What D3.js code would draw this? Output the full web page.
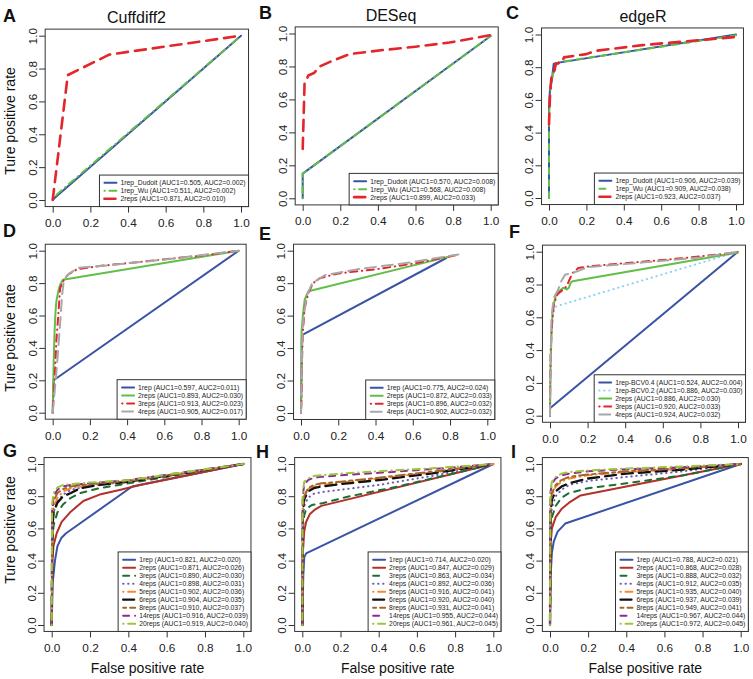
<!DOCTYPE html>
<html><head><meta charset="utf-8">
<script src="https://cdn.jsdelivr.net/npm/d3@7"></script>
<style>
body{margin:0;background:#fff}
svg{display:block;font-family:"Liberation Sans",Arial,Helvetica,sans-serif}
</style>
</head><body><svg id="chart" width="753" height="679"></svg>
<script>
// ---------------- data ----------------
const tickValues = [0, 0.2, 0.4, 0.6, 0.8, 1.0];
const tickLabels = ["0.0", "0.2", "0.4", "0.6", "0.8", "1.0"];
const methodTitles = ["Cuffdiff2", "DESeq", "edgeR"];
const panelLetters = ["A", "B", "C", "D", "E", "F", "G", "H", "I"];
const yAxisTitle = "Ture positive rate";
const xAxisTitle = "False positive rate";

const curvesA = [
  {name:"1rep_Dudoit", auc1:"0.505", auc2:"0.002", pts:[[0,0],[0.01,0.012],[1,1]]},
  {name:"1rep_Wu", auc1:"0.511", auc2:"0.002", pts:[[0,0.01],[0.01,0.022],[1,1]]},
  {name:"2reps", auc1:"0.871", auc2:"0.010", pts:[[0,0],[0.08,0.76],[0.3,0.885],[1,1]]}
];
const curvesB = [
  {name:"1rep_Dudoit", auc1:"0.570", auc2:"0.008", pts:[[0,0],[0,0.15],[1,0.985]]},
  {name:"1rep_Wu", auc1:"0.568", auc2:"0.008", pts:[[0,0],[0,0.15],[1,0.985]]},
  {name:"2reps", auc1:"0.899", auc2:"0.033", pts:[[0,0.3],[0.005,0.5],[0.01,0.7],[0.02,0.72],[0.03,0.745],[0.06,0.76],[0.09,0.8],[0.16,0.835],[0.25,0.875],[0.43,0.9],[0.6,0.92],[0.78,0.945],[1,0.99]]}
];
const curvesC = [
  {name:"1rep_Dudoit", auc1:"0.906", auc2:"0.039", pts:[[0,0],[0,0.55],[0.005,0.66],[0.015,0.72],[0.025,0.82],[0.035,0.825],[1,1]]},
  {name:"1rep_Wu", auc1:"0.909", auc2:"0.038", pts:[[0,0],[0,0.5],[0.01,0.7],[0.03,0.8],[0.05,0.83],[1,0.995]]},
  {name:"2reps", auc1:"0.923", auc2:"0.037", pts:[[0,0.45],[0.005,0.62],[0.01,0.7],[0.015,0.76],[0.03,0.78],[0.035,0.82],[0.07,0.83],[0.08,0.86],[0.2,0.88],[0.25,0.9],[0.5,0.935],[0.75,0.96],[1,0.985]]}
];
const curvesD = [
  {name:"1rep", auc1:"0.597", auc2:"0.011", pts:[[0,0],[0.005,0.2],[1,1]]},
  {name:"2reps", auc1:"0.893", auc2:"0.030", pts:[[0,0],[0.005,0.3],[0.01,0.5],[0.015,0.62],[0.02,0.69],[0.03,0.75],[0.04,0.79],[0.055,0.82],[1,1]]},
  {name:"3reps", auc1:"0.913", auc2:"0.023", pts:[[0,0],[0.01,0.2],[0.02,0.45],[0.03,0.6],[0.04,0.77],[0.06,0.82],[0.08,0.85],[0.13,0.885],[0.25,0.905],[0.5,0.935],[0.8,0.97],[1,1]]},
  {name:"4reps", auc1:"0.905", auc2:"0.017", pts:[[0,0],[0.02,0.25],[0.04,0.55],[0.05,0.72],[0.06,0.82],[0.09,0.86],[0.14,0.895],[0.3,0.91],[0.6,0.945],[1,1]]}
];
const curvesE = [
  {name:"1rep", auc1:"0.775", auc2:"0.024", pts:[[0,0],[0.003,0.3],[0.005,0.48],[0.78,0.955]]},
  {name:"2reps", auc1:"0.872", auc2:"0.033", pts:[[0,0],[0.003,0.5],[0.01,0.6],[0.02,0.7],[0.04,0.75],[0.8,0.965]]},
  {name:"3reps", auc1:"0.896", auc2:"0.032", pts:[[0,0],[0.003,0.1],[0.005,0.3],[0.01,0.5],[0.02,0.65],[0.04,0.74],[0.065,0.8],[0.1,0.83],[0.2,0.86],[0.4,0.885],[0.6,0.92],[0.845,0.975]]},
  {name:"4reps", auc1:"0.902", auc2:"0.032", pts:[[0,0],[0.005,0.35],[0.01,0.55],[0.03,0.72],[0.06,0.8],[0.13,0.85],[0.3,0.885],[0.6,0.93],[0.845,0.977]]}
];
const curvesF = [
  {name:"1rep-BCV0.4", auc1:"0.524", auc2:"0.004", pts:[[0,0],[0,0.045],[1,1]]},
  {name:"1rep-BCV0.2", auc1:"0.886", auc2:"0.030", pts:[[0,0],[0.003,0.4],[0.01,0.6],[0.03,0.665],[0.1,0.69],[1,1]]},
  {name:"2reps", auc1:"0.886", auc2:"0.030", pts:[[0,0],[0.003,0.3],[0.008,0.5],[0.015,0.65],[0.03,0.73],[0.05,0.76],[0.07,0.78],[0.09,0.77],[0.1,0.78],[0.11,0.81],[0.12,0.82],[1,0.995]]},
  {name:"3reps", auc1:"0.920", auc2:"0.033", pts:[[0,0],[0,0.1],[0.004,0.4],[0.01,0.55],[0.02,0.68],[0.04,0.74],[0.07,0.77],[0.09,0.79],[0.1,0.82],[0.12,0.87],[0.15,0.9],[0.2,0.91],[0.4,0.93],[0.7,0.96],[0.95,0.99],[1,1]]},
  {name:"4reps", auc1:"0.924", auc2:"0.032", pts:[[0,0],[0.003,0.3],[0.008,0.6],[0.02,0.72],[0.04,0.76],[0.06,0.82],[0.08,0.86],[0.12,0.87],[0.2,0.905],[0.5,0.935],[0.8,0.965],[1,1]]}
];
const curvesG = [
  {name:"1rep", auc1:"0.821", auc2:"0.020", pts:[[0,0],[0.005,0.26],[0.017,0.4],[0.03,0.49],[0.05,0.54],[0.075,0.57],[0.42,0.86],[1,1]]},
  {name:"2reps", auc1:"0.871", auc2:"0.026", pts:[[0,0],[0.004,0.4],[0.009,0.49],[0.026,0.57],[0.052,0.64],[0.096,0.7],[0.165,0.77],[0.25,0.81],[0.36,0.84],[0.46,0.87],[1,1]]},
  {name:"3reps", auc1:"0.890", auc2:"0.030", pts:[[0,0],[0.003,0.5],[0.01,0.62],[0.03,0.7],[0.06,0.75],[0.1,0.79],[0.15,0.82],[0.25,0.85],[0.4,0.88],[0.7,0.94],[1,1]]},
  {name:"4reps", auc1:"0.898", auc2:"0.031", pts:[[0,0],[0.003,0.6],[0.01,0.7],[0.03,0.77],[0.06,0.81],[0.1,0.84],[0.2,0.865],[0.4,0.89],[0.7,0.945],[1,1]]},
  {name:"5reps", auc1:"0.902", auc2:"0.036", pts:[[0,0],[0.003,0.65],[0.01,0.73],[0.03,0.79],[0.06,0.83],[0.1,0.85],[0.2,0.87],[0.4,0.895],[0.7,0.945],[1,1]]},
  {name:"6reps", auc1:"0.904", auc2:"0.035", pts:[[0,0],[0.003,0.6],[0.01,0.7],[0.03,0.76],[0.06,0.8],[0.1,0.82],[0.15,0.85],[0.25,0.87],[0.4,0.89],[0.7,0.945],[1,1]]},
  {name:"8reps", auc1:"0.910", auc2:"0.037", pts:[[0,0],[0.003,0.7],[0.01,0.77],[0.03,0.82],[0.06,0.845],[0.1,0.86],[0.2,0.875],[0.4,0.895],[0.7,0.945],[1,1]]},
  {name:"14reps", auc1:"0.916", auc2:"0.039", pts:[[0,0],[0.002,0.72],[0.01,0.8],[0.03,0.84],[0.06,0.86],[0.1,0.87],[0.2,0.88],[0.4,0.9],[0.7,0.95],[1,1]]},
  {name:"20reps", auc1:"0.919", auc2:"0.040", pts:[[0,0],[0.002,0.75],[0.01,0.82],[0.03,0.855],[0.06,0.87],[0.1,0.875],[0.2,0.885],[0.4,0.9],[0.7,0.95],[1,1]]}
];
const curvesH = [
  {name:"1rep", auc1:"0.714", auc2:"0.020", pts:[[0,0],[0.005,0.3],[0.01,0.42],[0.02,0.445],[1,1]]},
  {name:"2reps", auc1:"0.847", auc2:"0.029", pts:[[0,0],[0.003,0.45],[0.01,0.58],[0.02,0.64],[0.04,0.69],[0.07,0.72],[0.1,0.74],[1,1]]},
  {name:"3reps", auc1:"0.863", auc2:"0.034", pts:[[0,0],[0.003,0.6],[0.01,0.68],[0.02,0.72],[0.05,0.745],[0.1,0.755],[0.25,0.8],[0.5,0.86],[1,1]]},
  {name:"4reps", auc1:"0.892", auc2:"0.036", pts:[[0,0],[0.003,0.65],[0.01,0.74],[0.03,0.79],[0.06,0.815],[0.1,0.825],[0.2,0.84],[0.4,0.87],[0.7,0.93],[1,1]]},
  {name:"5reps", auc1:"0.916", auc2:"0.041", pts:[[0,0],[0.003,0.7],[0.01,0.8],[0.03,0.845],[0.06,0.86],[0.1,0.87],[0.2,0.885],[0.4,0.91],[0.7,0.95],[1,1]]},
  {name:"6reps", auc1:"0.920", auc2:"0.040", pts:[[0,0],[0.003,0.7],[0.01,0.78],[0.03,0.83],[0.06,0.85],[0.1,0.86],[0.2,0.875],[0.4,0.9],[0.7,0.945],[1,1]]},
  {name:"8reps", auc1:"0.931", auc2:"0.041", pts:[[0,0],[0.003,0.72],[0.01,0.8],[0.03,0.85],[0.06,0.87],[0.1,0.88],[0.2,0.89],[0.4,0.915],[0.7,0.955],[1,1]]},
  {name:"14reps", auc1:"0.955", auc2:"0.044", pts:[[0,0],[0.002,0.8],[0.01,0.87],[0.03,0.9],[0.06,0.915],[0.1,0.92],[0.2,0.93],[0.4,0.945],[0.7,0.97],[1,1]]},
  {name:"20reps", auc1:"0.961", auc2:"0.045", pts:[[0,0],[0.002,0.82],[0.01,0.89],[0.03,0.91],[0.06,0.925],[0.1,0.93],[0.2,0.94],[0.4,0.955],[0.7,0.975],[1,1]]}
];
const curvesI = [
  {name:"1rep", auc1:"0.788", auc2:"0.021", pts:[[0,0],[0.003,0.3],[0.01,0.45],[0.02,0.52],[0.04,0.58],[0.08,0.63],[1,1]]},
  {name:"2reps", auc1:"0.868", auc2:"0.028", pts:[[0,0],[0.003,0.5],[0.01,0.6],[0.03,0.67],[0.06,0.72],[0.1,0.76],[0.16,0.805],[1,1]]},
  {name:"3reps", auc1:"0.888", auc2:"0.032", pts:[[0,0],[0.003,0.58],[0.01,0.67],[0.03,0.74],[0.06,0.79],[0.1,0.82],[0.2,0.85],[0.4,0.88],[0.7,0.93],[1,1]]},
  {name:"4reps", auc1:"0.912", auc2:"0.035", pts:[[0,0],[0.003,0.65],[0.01,0.73],[0.03,0.8],[0.06,0.84],[0.1,0.87],[0.2,0.895],[0.4,0.92],[0.7,0.955],[1,1]]},
  {name:"5reps", auc1:"0.935", auc2:"0.040", pts:[[0,0],[0.003,0.72],[0.01,0.8],[0.03,0.86],[0.06,0.89],[0.1,0.91],[0.2,0.93],[0.4,0.95],[0.7,0.97],[1,1]]},
  {name:"6reps", auc1:"0.937", auc2:"0.039", pts:[[0,0],[0.003,0.7],[0.01,0.78],[0.03,0.83],[0.06,0.86],[0.1,0.88],[0.2,0.91],[0.4,0.94],[0.7,0.965],[1,1]]},
  {name:"8reps", auc1:"0.949", auc2:"0.041", pts:[[0,0],[0.003,0.74],[0.01,0.82],[0.03,0.87],[0.06,0.9],[0.1,0.92],[0.2,0.935],[0.4,0.955],[0.7,0.975],[1,1]]},
  {name:"14reps", auc1:"0.967", auc2:"0.044", pts:[[0,0],[0.002,0.82],[0.01,0.88],[0.03,0.91],[0.06,0.93],[0.1,0.94],[0.2,0.955],[0.4,0.967],[0.7,0.98],[1,1]]},
  {name:"20reps", auc1:"0.972", auc2:"0.045", pts:[[0,0],[0.002,0.83],[0.01,0.89],[0.03,0.92],[0.06,0.94],[0.1,0.95],[0.2,0.96],[0.4,0.972],[0.7,0.985],[1,1]]}
];
const panelCurves = [curvesA, curvesB, curvesC, curvesD, curvesE, curvesF, curvesG, curvesH, curvesI];

// ---------------- styles ----------------
const C = {blue:"#3A53A4", green:"#62BE48", red:"#E3262B", grey:"#A8A8A8", sky:"#93D1F0",
  dred:"#B3302B", dgreen:"#1F6D33", slate:"#6B5EB2", orange:"#F6882F", black:"#111111",
  brown:"#A3652A", purple:"#8C2B8F", ygreen:"#9CC63C"};
const dashes = {solid:null, dashed:"6,6", dotted:"0.4,4.6", dotdash:"0.4,4.6,7,4.6",
  longdash:"11,6", twodash:"3,4,9,4", bigdash:"11,7"};
const widths = {bigdash:2.6};
const stylesTop = [{c:C.blue,d:"solid"},{c:C.green,d:"dotdash"},{c:C.red,d:"bigdash"}];
const stylesTopC = [{c:C.blue,d:"solid"},{c:C.green,d:"dashed"},{c:C.red,d:"bigdash"}];
const stylesMid = [{c:C.blue,d:"solid"},{c:C.green,d:"solid"},{c:C.red,d:"dotdash"},{c:C.grey,d:"longdash"}];
const stylesF = [{c:C.blue,d:"solid"},{c:C.sky,d:"dotted"},{c:C.green,d:"solid"},{c:C.red,d:"dotdash"},{c:C.grey,d:"longdash"}];
const stylesBot = [{c:C.blue,d:"solid"},{c:C.dred,d:"solid"},{c:C.dgreen,d:"dashed"},{c:C.slate,d:"dotted"},
  {c:C.orange,d:"dotdash"},{c:C.black,d:"longdash"},{c:C.brown,d:"twodash"},{c:C.purple,d:"dashed"},{c:C.ygreen,d:"dotdash"}];
const panelStyles = [stylesTop, stylesTop, stylesTopC, stylesMid, stylesMid, stylesF, stylesBot, stylesBot, stylesBot];

// ---------------- layout (pixel positions of data 0 and 1) ----------------
const layout = [
  {x:[52.7,241.0], y:[200.0,35.7], L:[3,21.5], title:136.5, ylab:121},
  {x:[302.7,490.7], y:[198.3,33.5], L:[259,18.5], title:391},
  {x:[549.0,736.0], y:[198.0,34.5], L:[506,18.5], title:643},
  {x:[52.7,238.7], y:[412.7,250.7], L:[3,237], ylab:338},
  {x:[301.0,487.3], y:[413.0,250.7], L:[259,240]},
  {x:[550.0,738.0], y:[415.7,251.7], L:[509,238]},
  {x:[51.7,243.3], y:[625.0,464.0], L:[3,457], ylab:530, xlab:true},
  {x:[302.3,493.3], y:[625.0,464.0], L:[256,458], xlab:true},
  {x:[550.0,740.7], y:[625.0,464.0], L:[511,458], xlab:true}
];

const svg = d3.select("#chart");
const lw = s => widths[s.d] || (s.c===C.black ? 2.3 : 2);

layout.forEach((lay, pi) => {
  const x = d3.scaleLinear().domain([0,1]).range(lay.x);
  const y = d3.scaleLinear().domain([0,1]).range(lay.y);
  const bx0 = x(-0.04), bx1 = x(1.04), byB = y(-0.04), byT = y(1.04);
  const g = svg.append("g");

  // axes
  const xa = g.append("g").attr("transform", `translate(0,${byB})`)
    .call(d3.axisBottom(x).tickValues(tickValues).tickFormat((d,i)=>tickLabels[i]).tickSize(6).tickSizeOuter(0).tickPadding(6));
  xa.select(".domain").remove();
  xa.selectAll("line").attr("stroke","#333");
  xa.attr("font-family",null);
  xa.selectAll("text").attr("font-size",11.8).attr("fill","#222");

  const ya = g.append("g").attr("transform", `translate(${bx0},0)`)
    .call(d3.axisLeft(y).tickValues(tickValues).tickFormat((d,i)=>tickLabels[i]).tickSize(6).tickSizeOuter(0));
  ya.select(".domain").remove();
  ya.selectAll("line").attr("stroke","#333");
  ya.attr("font-family",null);
  ya.selectAll("text").attr("font-size",11.8).attr("fill","#222")
    .attr("x",null).attr("dy",null).attr("y",null)
    .attr("text-anchor","middle").attr("transform","translate(-8.5,0) rotate(-90)");

  // curves
  const line = d3.line().x(d=>x(d[0])).y(d=>y(d[1]));
  const curves = panelCurves[pi], st = panelStyles[pi];
  curves.forEach((cv, i) => {
    g.append("path").attr("d", line(cv.pts)).attr("fill","none")
      .attr("stroke", st[i].c).attr("stroke-width", lw(st[i]))
      .attr("stroke-linecap","round").attr("stroke-linejoin","round")
      .attr("stroke-dasharray", dashes[st[i].d]);
  });

  // box
  g.append("rect").attr("x",bx0).attr("y",byT).attr("width",bx1-bx0).attr("height",byB-byT)
    .attr("fill","none").attr("stroke","#333").attr("stroke-width",1);

  // legend
  const rowH = 8.0, n = curves.length, fs = 6.8;
  const lg = g.append("g");
  const boxRect = lg.append("rect").attr("fill","#fff").attr("stroke","#333").attr("stroke-width",1);
  const texts = lg.selectAll("text.lt").data(curves).join("text").attr("class","lt")
    .attr("font-size",fs).attr("fill","#222")
    .text(d => `${d.name} (AUC1=${d.auc1}, AUC2=${d.auc2})`);
  let maxW = 0;
  texts.each(function(){ maxW = Math.max(maxW, this.getComputedTextLength()); });
  const bw = maxW + 24, bh = n*rowH + 7.5;
  const lx = bx1 - bw, ly = byB - bh;
  boxRect.attr("x",lx).attr("y",ly).attr("width",bw).attr("height",bh);
  texts.attr("x", lx+21).attr("y",(d,i)=> ly+3.75+rowH*(i+0.5)).attr("dy","0.35em");
  curves.forEach((cv,i)=>{
    const yy = ly+3.75+rowH*(i+0.5);
    lg.append("line").attr("x1",lx+5).attr("x2",lx+17).attr("y1",yy).attr("y2",yy)
      .attr("stroke",st[i].c).attr("stroke-width",lw(st[i]))
      .attr("stroke-linecap","round").attr("stroke-dasharray", dashes[st[i].d]);
  });

  // panel letter
  svg.append("text").attr("x",lay.L[0]).attr("y",lay.L[1]).attr("font-size",18)
    .attr("font-weight","bold").attr("fill","#111").text(panelLetters[pi]);
  if (lay.title !== undefined)
    svg.append("text").attr("x",lay.title).attr("y",byT-6).attr("text-anchor","middle")
      .attr("font-size",16).attr("fill","#111").text(methodTitles[pi]);
  if (lay.ylab !== undefined)
    svg.append("text").attr("transform",`translate(15,${lay.ylab}) rotate(-90)`)
      .attr("text-anchor","middle").attr("font-size",14).attr("fill","#111").text(yAxisTitle);
  if (lay.xlab)
    svg.append("text").attr("x",(bx0+bx1)/2).attr("y",673).attr("text-anchor","middle")
      .attr("font-size",14).attr("fill","#111").text(xAxisTitle);
});
</script>
</body></html>
